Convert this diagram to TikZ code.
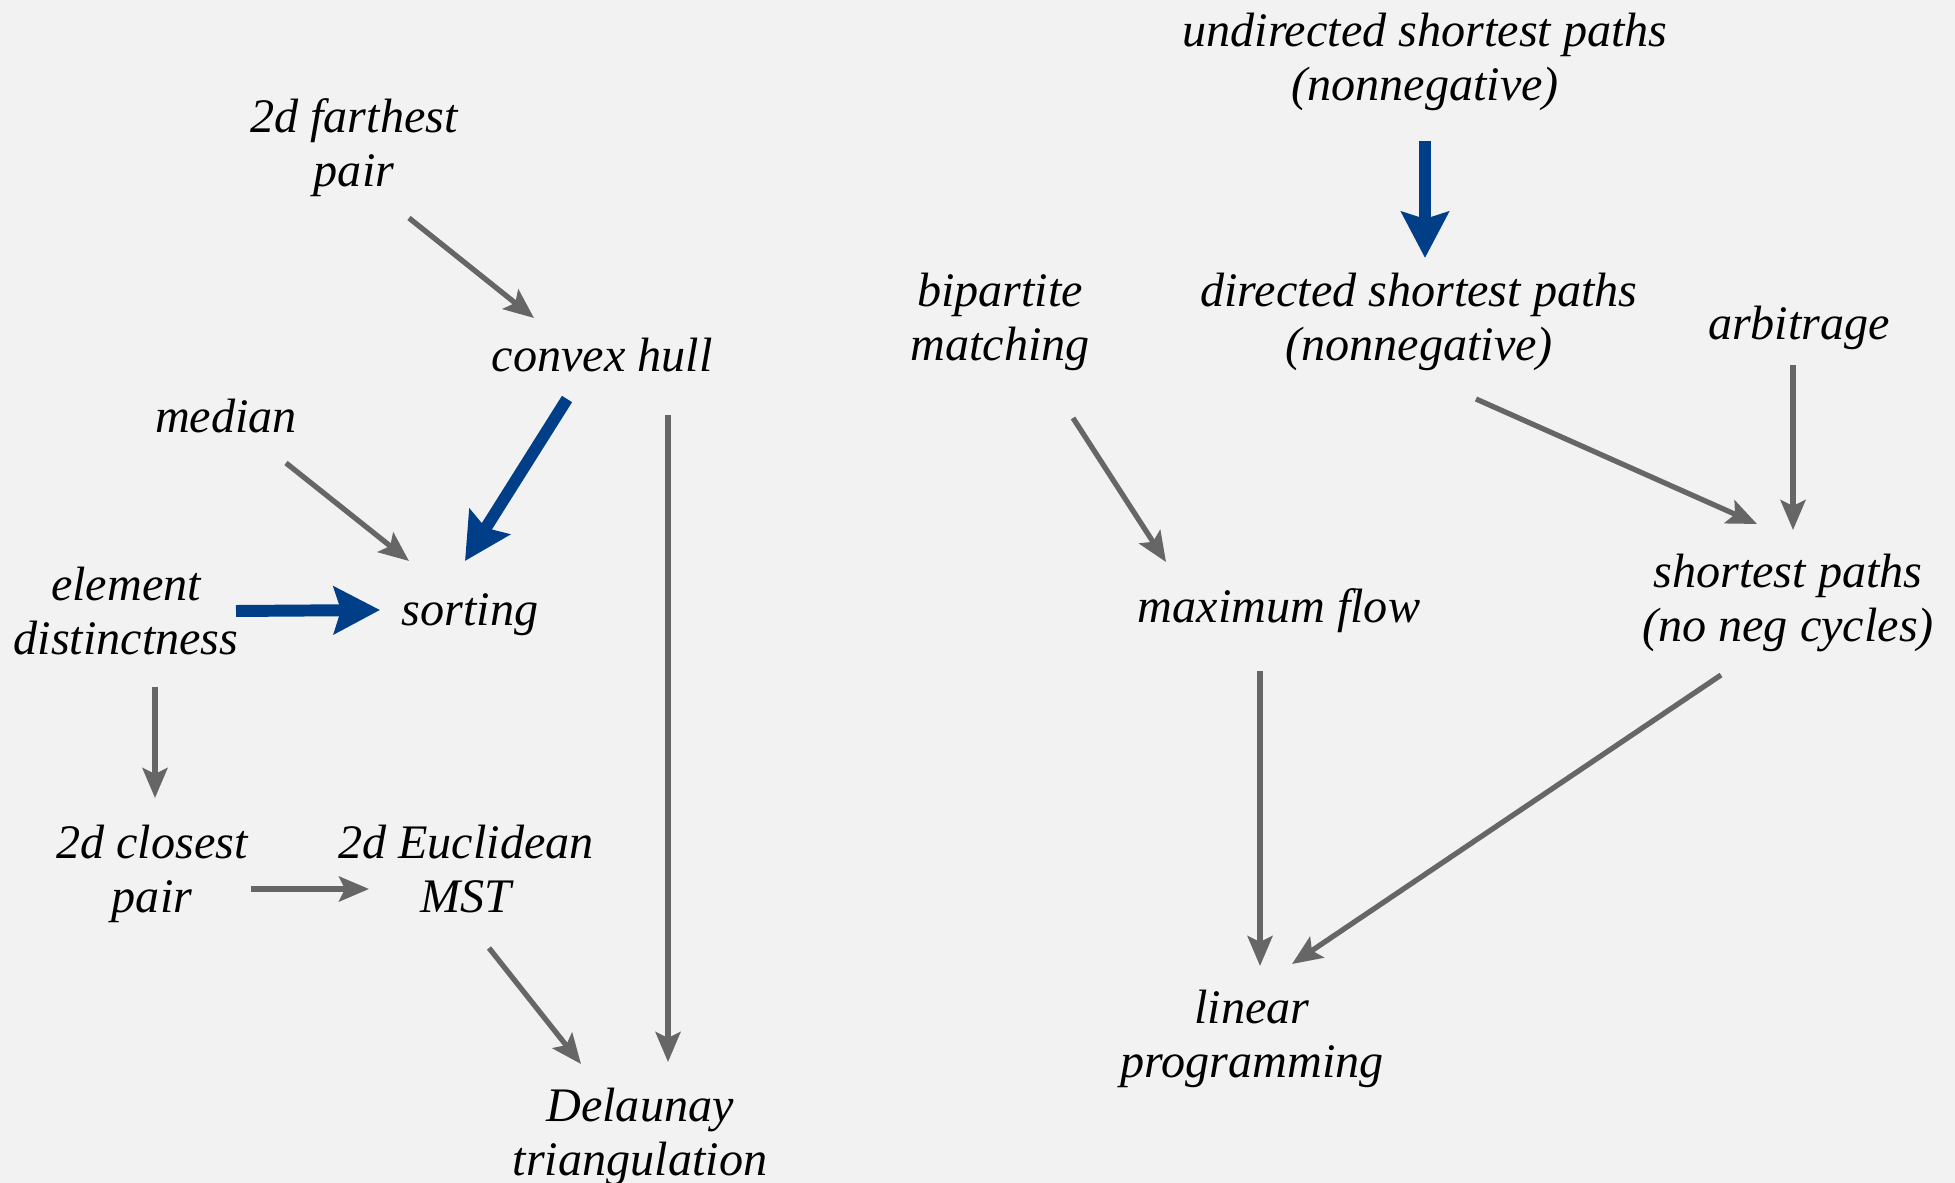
\documentclass[tikz,border=0pt]{standalone}
\usepackage{fontspec}
\setmainfont{Liberation Serif}
\usepackage{tikz}
\usetikzlibrary{arrows.meta,calc}
\definecolor{pagebg}{HTML}{F2F2F2}
\definecolor{redgray}{HTML}{666666}
\definecolor{redblue}{HTML}{003F87}
\tikzstyle{prob} = [align=center, inner sep=0pt, font=\fontsize{13.7}{15.4}\selectfont\itshape]
\tikzstyle{redlink} = [draw=redgray, line width=1.5pt, -{Stealth[length=0.3cm, width=0.25cm, inset=0.06cm]}]
\tikzstyle{redbold} = [draw=redblue, line width=3.4pt, -{Stealth[length=0.46cm, width=0.47cm, inset=0.07cm]}]

\begin{document}
\begin{tikzpicture}[x=0.01cm, y=-0.01cm]
            \fill[pagebg] (0,0) rectangle (1955,1183);
            \useasboundingbox (0,0) rectangle (1955,1183);
            % geometric problems
            \node[prob] (far)     at (354,148)  {2d farthest\\pair};
            \node[prob] (hull)    at (602,355)  {convex hull};
            \node[prob] (median)  at (226,416)  {median};
            \node[prob] (elem)    at (126,611)  {element\\distinctness};
            \node[prob] (sort)    at (470,615)  {sorting};
            \node[prob] (closest) at (152,874)  {2d closest\\pair};
            \node[prob] (emst)    at (466,869)  {2d Euclidean\\MST};
            \node[prob] (del)     at (640,1137) {Delaunay\\triangulation};
            % graph problems
            \node[prob] (undir)   at (1425,62)  {undirected shortest paths\\(nonnegative)};
            \node[prob] (bip)     at (1000,322) {bipartite\\matching};
            \node[prob] (dir)     at (1419,322) {directed shortest paths\\(nonnegative)};
            \node[prob] (arb)     at (1799,328) {arbitrage};
            \node[prob] (flow)    at (1279,611) {maximum flow};
            \node[prob] (sp)      at (1788,603) {shortest paths\\(no neg cycles)};
            \node[prob] (lp)      at (1252,1039) {linear\\programming};

            \draw[redlink] ($(far)+(55,70)$) -- ($(hull)+(-68,-37)$);
            \draw[redlink] ($(median)+(60,47)$) -- ($(sort)+(-61,-54)$);
            \draw[redbold] ($(hull)+(-35,44)$) -- ($(sort)+(-5,-54)$);
            \draw[redbold] ($(elem)+(110,0)$) -- ($(sort)+(-90,-5)$);
            \draw[redlink] ($(elem)+(29,76)$) -- ($(closest)+(3,-76)$);
            \draw[redlink] ($(closest)+(99,15)$) -- ($(emst)+(-97,20)$);
            \draw[redlink] ($(emst)+(23,79)$) -- ($(del)+(-59,-73)$);
            \draw[redlink] ($(hull)+(66,60)$) -- ($(del)+(28,-75)$);

            \draw[redbold] ($(undir)+(0,79)$) -- ($(dir)+(6,-64)$);
            \draw[redlink] ($(bip)+(73,96)$) -- ($(flow)+(-113,-49)$);
            \draw[redlink] ($(dir)+(57,77)$) -- ($(sp)+(-31,-79)$);
            \draw[redlink] ($(arb)+(-6,37)$) -- ($(sp)+(5,-73)$);
            \draw[redlink] ($(flow)+(-19,60)$) -- ($(lp)+(8,-73)$);
            \draw[redlink] ($(sp)+(-67,72)$) -- ($(lp)+(40,-75)$);
\end{tikzpicture}
\end{document}
